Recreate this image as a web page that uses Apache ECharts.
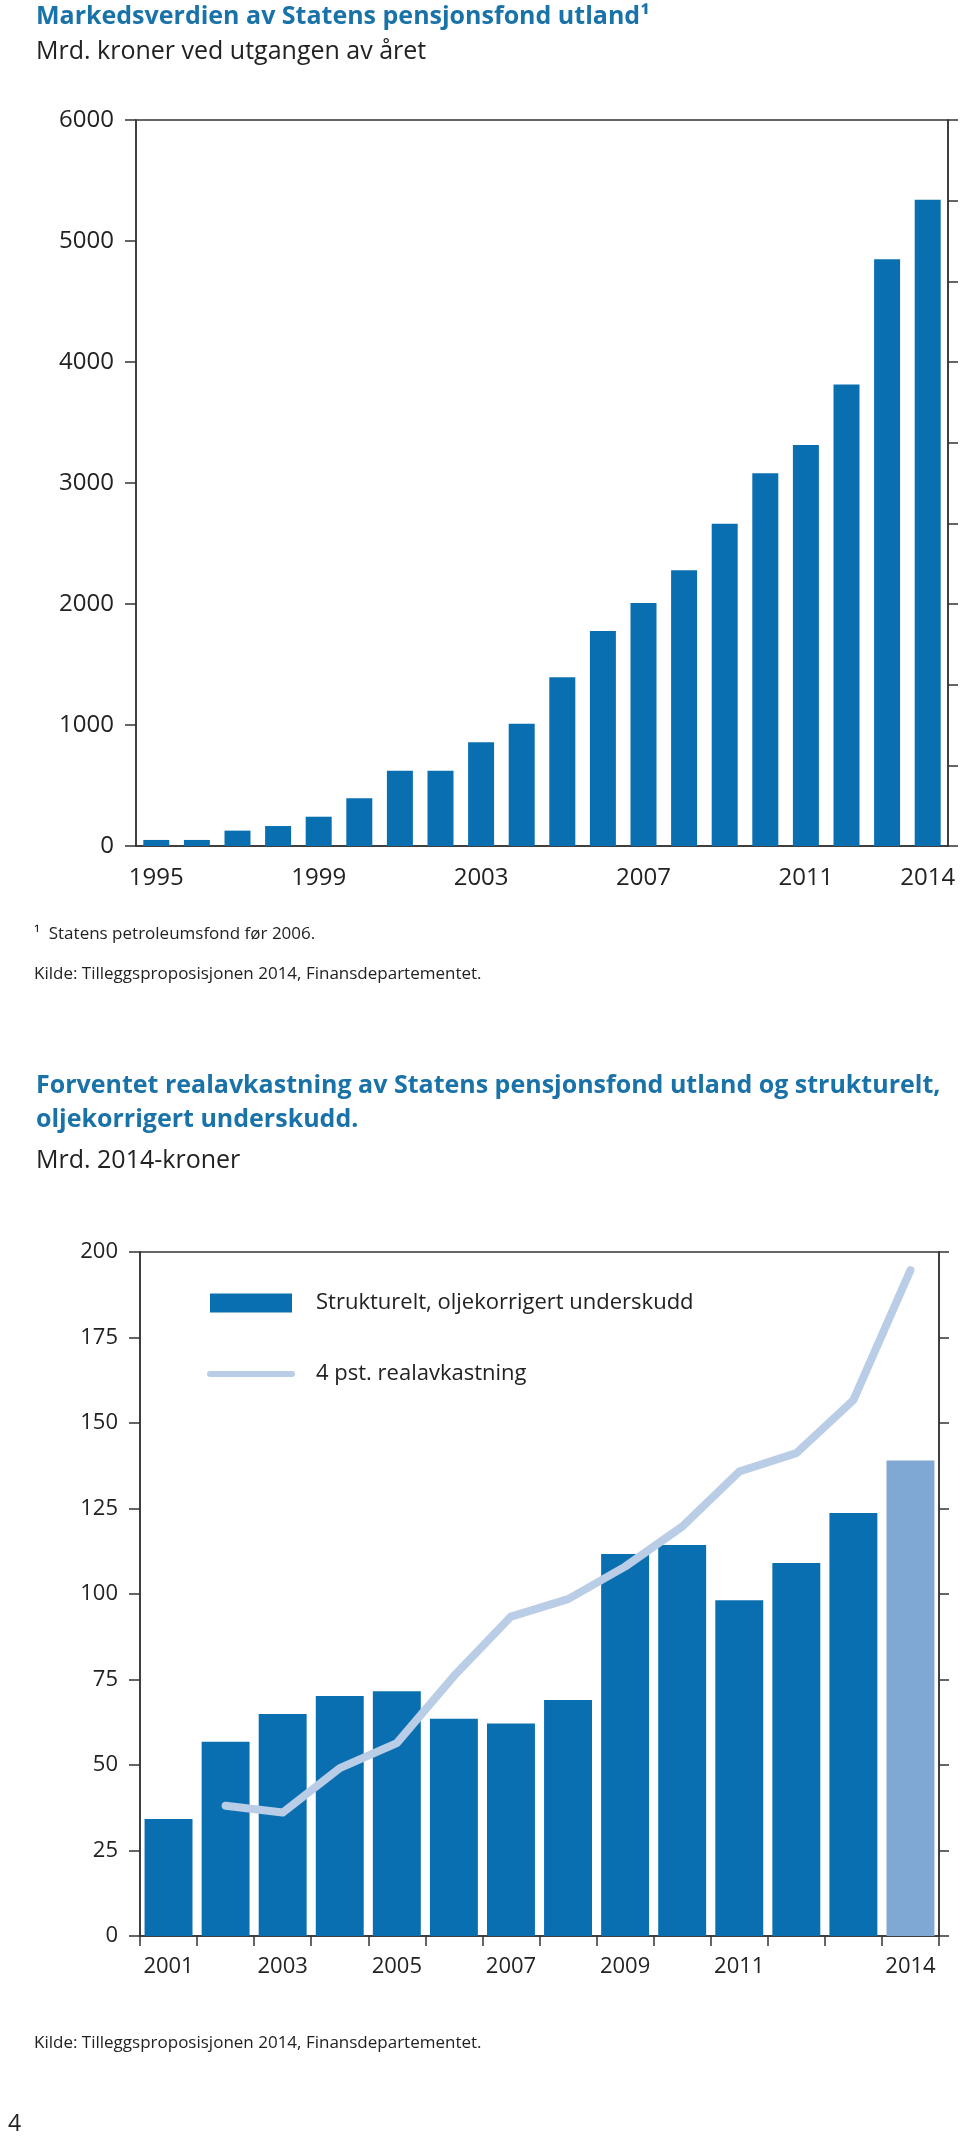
<!DOCTYPE html>
<html>
<head>
<meta charset="utf-8">
<script src="https://cdn.jsdelivr.net/npm/echarts@6/dist/echarts.min.js"></script>
<style>
html,body{margin:0;padding:0;background:#fff;}
#c{width:960px;height:2138px;}
</style>
</head>
<body>
<div id="c"></div>
<script>
// ---- Chart 1 data ----
const years1 = ['1995','1996','1997','1998','1999','2000','2001','2002','2003','2004','2005','2006','2007','2008','2009','2010','2011','2012','2013','2014'];
const marketValue = [50, 50, 127, 165, 242, 394, 622, 622, 857, 1011, 1394, 1777, 2008, 2278, 2664, 3080, 3314, 3815, 4849, 5341];
const shownYears1 = ['1995','1999','2003','2007','2011','2014'];

// ---- Chart 2 data ----
const years2 = ['2001','2002','2003','2004','2005','2006','2007','2008','2009','2010','2011','2012','2013','2014'];
const deficit = [34.2, 56.8, 64.9, 70.2, 71.6, 63.5, 62.1, 69.0, 111.7, 114.3, 98.2, 109.1, 123.7, 139.0];
const realReturn = [null, 38.1, 36.1, 49.1, 56.4, 76.0, 93.4, 98.5, 108.0, 119.7, 135.8, 141.2, 156.7, 194.7];
const shownYears2 = ['2001','2003','2005','2007','2009','2011','2014'];
const seriesNames = ['Strukturelt, oljekorrigert underskudd', '4 pst. realavkastning'];

const FONT = '"Open Sans", "Noto Sans", sans-serif';
const BLUE = '#0a6fb0';
const LIGHT = '#80a8d4';
const LINE = '#b9cde6';
const TITLE = '#1a73a8';
const TXT = '#222';

const chart = echarts.init(document.getElementById('c'), null, {renderer: 'canvas'});

const titleText = (text, left, top, size, color, weight) => ({
  text: text, left: left, top: top, padding: 0,
  textStyle: {fontFamily: FONT, fontSize: size, color: color, fontWeight: weight || 'normal'}
});

const option = {
  animation: false,
  backgroundColor: '#fff',
  textStyle: {fontFamily: FONT},
  title: [
    titleText('Markedsverdien av Statens pensjonsfond utland¹', 36, 4, 25, TITLE, 'bold'),
    titleText('Mrd. kroner ved utgangen av året', 36, 39, 25, TXT),
    titleText('¹  Statens petroleumsfond før 2006.', 34, 926, 17, TXT),
    titleText('Kilde: Tilleggsproposisjonen 2014, Finansdepartementet.', 34, 966, 17, TXT),
    titleText('Forventet realavkastning av Statens pensjonsfond utland og strukturelt,', 36, 1073, 25, TITLE, 'bold'),
    titleText('oljekorrigert underskudd.', 36, 1107, 25, TITLE, 'bold'),
    titleText('Mrd. 2014-kroner', 36, 1148, 25, TXT),
    titleText('Kilde: Tilleggsproposisjonen 2014, Finansdepartementet.', 34, 2035, 17, TXT),
    titleText('4', 8, 2113, 23, TXT)
  ],
  legend: {
    left: 202, top: 1287, orient: 'vertical', itemWidth: 82, itemHeight: 19, itemGap: 49,
    data: [
      {name: seriesNames[0], icon: 'rect'},
      {name: seriesNames[1], lineStyle: {width: 6, color: LINE, cap: 'round'}, itemStyle: {opacity: 0}}
    ],
    textStyle: {fontFamily: FONT, fontSize: 22, color: TXT, padding: [0, 0, 0, 19]}
  },
  grid: [
    {left: 136, top: 120, width: 812, height: 726, show: true, borderColor: '#333', borderWidth: 1.5, backgroundColor: 'transparent'},
    {left: 140, top: 1252, width: 799, height: 684, show: true, borderColor: '#333', borderWidth: 1.5, backgroundColor: 'transparent'}
  ],
  xAxis: [
    {
      gridIndex: 0, type: 'category', data: years1,
      axisLine: {lineStyle: {color: '#333', width: 1.5}},
      axisTick: {show: false},
      axisLabel: {
        interval: 0, margin: 20, fontFamily: FONT, fontSize: 24, color: TXT,
        formatter: v => shownYears1.indexOf(v) >= 0 ? v : ''
      }
    },
    {
      gridIndex: 1, type: 'category', data: years2,
      axisLine: {lineStyle: {color: '#333', width: 1.5}},
      axisTick: {show: true, interval: 0, length: 10, lineStyle: {color: '#333', width: 1.5}},
      axisLabel: {
        interval: 0, margin: 20, fontFamily: FONT, fontSize: 22, color: TXT,
        formatter: v => shownYears2.indexOf(v) >= 0 ? v : ''
      }
    }
  ],
  yAxis: [
    {
      gridIndex: 0, type: 'value', min: 0, max: 6000, interval: 1000,
      axisLine: {show: true, lineStyle: {color: '#333', width: 1.5}},
      axisTick: {show: true, length: 11, lineStyle: {color: '#333', width: 1.5}},
      splitLine: {show: false},
      axisLabel: {margin: 22, fontFamily: FONT, fontSize: 24, color: TXT, formatter: v => String(v)}
    },
    {
      gridIndex: 0, type: 'value', position: 'right', min: 0, max: 9, interval: 1,
      axisLine: {show: true, lineStyle: {color: '#333', width: 1.5}},
      axisTick: {show: true, length: 10, lineStyle: {color: '#333', width: 1.5}},
      splitLine: {show: false},
      axisLabel: {show: false}
    },
    {
      gridIndex: 1, type: 'value', min: 0, max: 200, interval: 25,
      axisLine: {show: true, lineStyle: {color: '#333', width: 1.5}},
      axisTick: {show: true, length: 11, lineStyle: {color: '#333', width: 1.5}},
      splitLine: {show: false},
      axisLabel: {margin: 22, fontFamily: FONT, fontSize: 22, color: TXT, formatter: v => String(v)}
    },
    {
      gridIndex: 1, type: 'value', position: 'right', min: 0, max: 200, interval: 25,
      axisLine: {show: true, lineStyle: {color: '#333', width: 1.5}},
      axisTick: {show: true, length: 10, lineStyle: {color: '#333', width: 1.5}},
      splitLine: {show: false},
      axisLabel: {show: false}
    }
  ],
  series: [
    {
      type: 'bar', xAxisIndex: 0, yAxisIndex: 0, data: marketValue,
      barWidth: 26, itemStyle: {color: BLUE}
    },
    {
      name: seriesNames[0], type: 'bar', xAxisIndex: 1, yAxisIndex: 2,
      data: deficit.map((v, i) => i === deficit.length - 1 ? {value: v, itemStyle: {color: LIGHT}} : v),
      barCategoryGap: '16%', itemStyle: {color: BLUE}
    },
    {
      name: seriesNames[1], type: 'line', xAxisIndex: 1, yAxisIndex: 2,
      data: realReturn, symbol: 'none', connectNulls: false,
      lineStyle: {color: LINE, width: 8, cap: 'round', join: 'round'},
      itemStyle: {color: LINE}
    }
  ]
};
chart.setOption(option);
</script>
</body>
</html>
